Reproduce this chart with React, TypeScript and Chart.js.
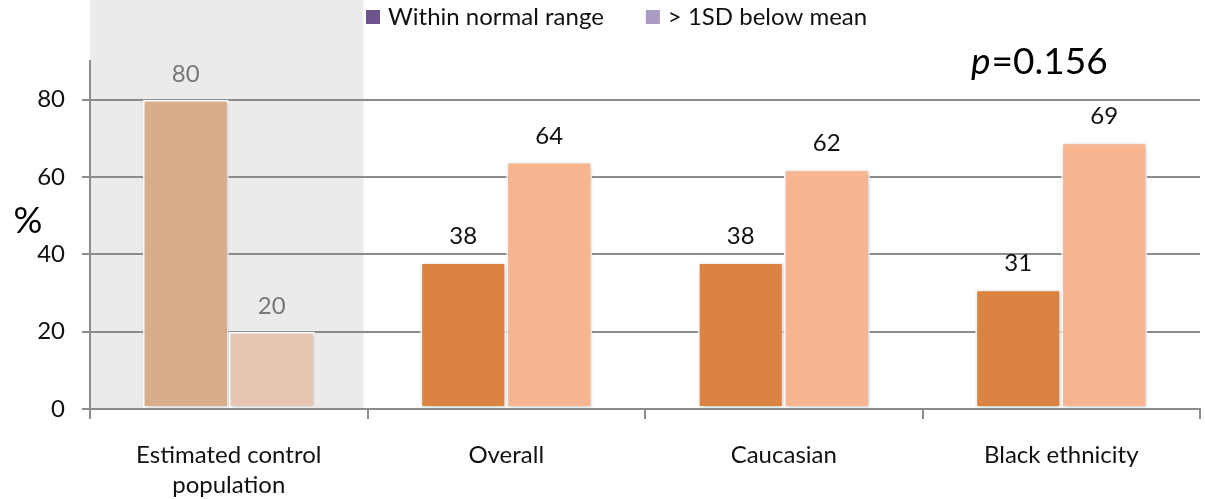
import React, { useEffect, useRef } from "react";
import { Chart, registerables } from "chart.js";

Chart.register(...registerables);

// Categories and series values
const categories: (string | string[])[] = [
  ["Estimated control", "population"],
  "Overall",
  "Caucasian",
  "Black ethnicity",
];
const seriesNames = ["Within normal range", "> 1SD below mean"];
const withinNormal = [80, 38, 38, 31];
const belowMean = [20, 64, 62, 69];
const yTicks = [0, 20, 40, 60, 80];
const yMax = 90;
const pValue = "0.156";
const axisTitle = "%";

// Styling
const FONT = "Lato, 'Open Sans', sans-serif";
const GRID = "#8c8c8c";
const legendSwatches = ["#6e548d", "#a99bc2"];
const normalColors = ["#d9ad8a", "#db8441", "#db8441", "#db8441"];
const belowColors = ["#e8c5b1", "#f7b690", "#f7b690", "#f7b690"];
const valueLabelColors = ["#777777", "#111111", "#111111", "#111111"];
const shadeColor = "#ebebeb";

// Grey panel behind the control-population group
const controlShade = {
  id: "controlShade",
  beforeDraw(chart: any) {
    const { ctx, chartArea, scales } = chart;
    const x = scales.x;
    const boundary = (x.getPixelForValue(0) + x.getPixelForValue(1)) / 2;
    ctx.save();
    ctx.fillStyle = shadeColor;
    ctx.fillRect(chartArea.left, 0, boundary - 4 - chartArea.left, chartArea.bottom);
    ctx.restore();
  },
};

// Soft drop shadow under the bars
const barShadow = {
  id: "barShadow",
  beforeDatasetsDraw(chart: any) {
    const ctx = chart.ctx;
    ctx.save();
    ctx.shadowColor = "rgba(0,0,0,0.22)";
    ctx.shadowBlur = 4;
    ctx.shadowOffsetX = 1;
    ctx.shadowOffsetY = 1;
  },
  afterDatasetsDraw(chart: any) {
    chart.ctx.restore();
  },
};

// Value labels above each bar
const valueLabels = {
  id: "valueLabels",
  afterDatasetsDraw(chart: any) {
    const ctx = chart.ctx;
    ctx.save();
    ctx.font = `24px ${FONT}`;
    ctx.textAlign = "center";
    ctx.textBaseline = "alphabetic";
    chart.data.datasets.forEach((ds: any, di: number) => {
      const meta = chart.getDatasetMeta(di);
      meta.data.forEach((el: any, i: number) => {
        ctx.fillStyle = valueLabelColors[i];
        ctx.fillText(String(ds.data[i]), el.x, el.y - 18);
      });
    });
    ctx.restore();
  },
};

// Legend, axis title and p-value annotation
const annotations = {
  id: "annotations",
  afterDraw(chart: any) {
    const { ctx, chartArea } = chart;
    ctx.save();
    // legend
    ctx.font = `24px ${FONT}`;
    ctx.textBaseline = "alphabetic";
    ctx.textAlign = "left";
    let lx = 366;
    seriesNames.forEach((name, i) => {
      ctx.fillStyle = legendSwatches[i];
      ctx.fillRect(lx, 10, 14, 14);
      ctx.fillStyle = "#111111";
      ctx.fillText(name, lx + 22, 25);
      lx += 22 + ctx.measureText(name).width + 42;
    });
    // y-axis title
    ctx.font = `36px ${FONT}`;
    ctx.textAlign = "center";
    ctx.textBaseline = "middle";
    ctx.fillStyle = "#000000";
    ctx.fillText(axisTitle, 28, (chartArea.top + chartArea.bottom) / 2 - 14);
    // p-value
    ctx.textAlign = "left";
    ctx.textBaseline = "alphabetic";
    ctx.font = `italic 37px ${FONT}`;
    const px = 971;
    const py = 74;
    ctx.fillText("p", px, py);
    const pw = ctx.measureText("p").width;
    ctx.font = `37px ${FONT}`;
    ctx.fillText("=" + pValue, px + pw + 1, py);
    ctx.restore();
  },
};

export default function App() {
  const canvasRef = useRef<HTMLCanvasElement | null>(null);

  useEffect(() => {
    document.body.style.margin = "0";
    const canvas = canvasRef.current;
    if (!canvas) return;
    const chart = new Chart(canvas, {
      type: "bar",
      data: {
        labels: categories,
        datasets: [
          {
            label: seriesNames[0],
            data: withinNormal,
            backgroundColor: normalColors,
            borderColor: "#ffffff",
            borderWidth: 2,
            borderSkipped: false,
            categoryPercentage: 0.62,
            barPercentage: 1,
          },
          {
            label: seriesNames[1],
            data: belowMean,
            backgroundColor: belowColors,
            borderColor: "#ffffff",
            borderWidth: 2,
            borderSkipped: false,
            categoryPercentage: 0.62,
            barPercentage: 1,
          },
        ],
      },
      options: {
        responsive: true,
        maintainAspectRatio: false,
        animation: false,
        layout: { padding: { top: 61, right: 5, left: 0, bottom: 0 } },
        plugins: {
          legend: { display: false },
          tooltip: { enabled: false },
          title: { display: false },
        },
        scales: {
          x: {
            offset: true,
            grid: {
              offset: true,
              drawOnChartArea: false,
              drawTicks: true,
              tickLength: 10,
              color: GRID,
              lineWidth: 2,
            },
            border: { color: GRID, width: 2 },
            ticks: {
              color: "#111111",
              font: { family: FONT, size: 24, lineHeight: 1.25 },
              padding: 21,
              maxRotation: 0,
              autoSkip: false,
            },
            afterFit: (s: any) => {
              s.height = 90;
            },
          },
          y: {
            min: 0,
            max: yMax,
            afterBuildTicks: (s: any) => {
              s.ticks = yTicks.map((v) => ({ value: v }));
            },
            grid: { color: GRID, lineWidth: 2, tickLength: 8 },
            border: { color: GRID, width: 2 },
            ticks: {
              color: "#111111",
              font: { family: FONT, size: 24 },
              padding: 17,
            },
            afterFit: (s: any) => {
              s.width = 90;
            },
          },
        },
      },
      plugins: [controlShade, barShadow, valueLabels, annotations],
    });
    return () => chart.destroy();
  }, []);

  return (
    <div style={{ width: 1205, height: 499, position: "relative", background: "#ffffff" }}>
      <canvas ref={canvasRef} />
    </div>
  );
}
